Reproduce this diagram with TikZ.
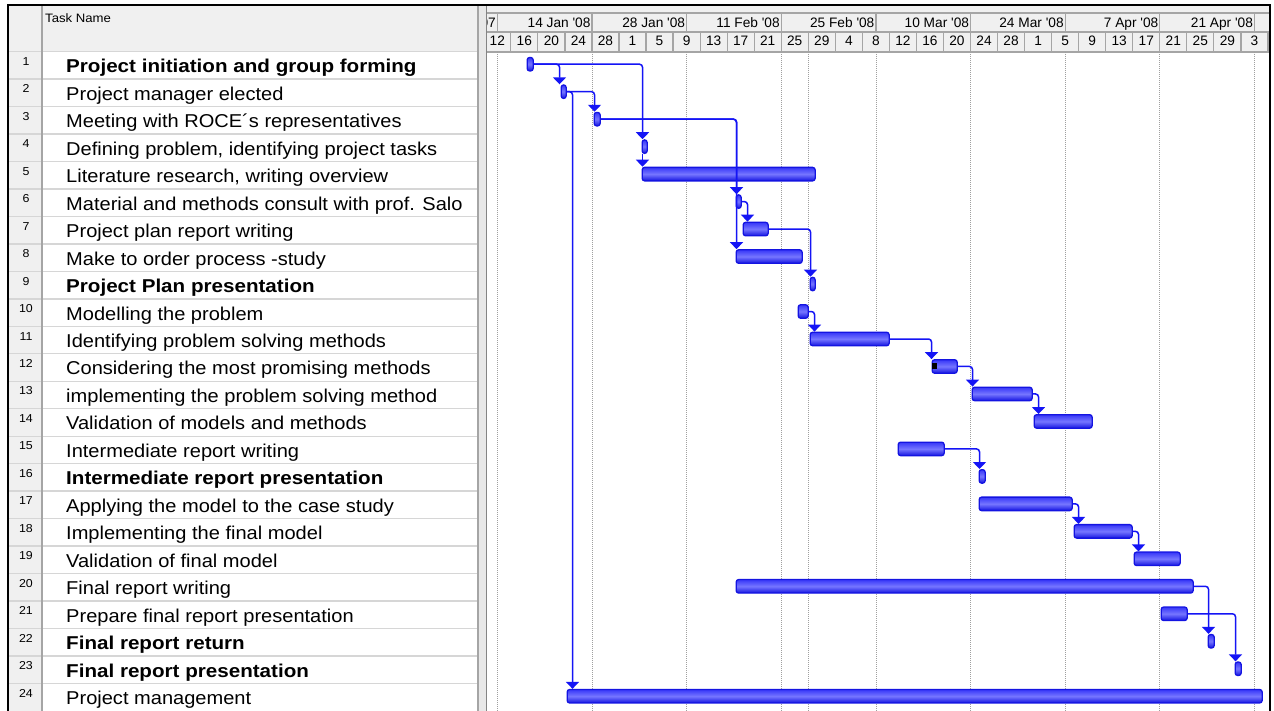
\documentclass[tikz,border=0pt]{standalone}
\usepackage{fontspec}
\setmainfont{Liberation Sans}[FakeStretch=1.078, BoldFeatures={FakeStretch=1.108}]
\newfontfamily\hdrfont{Liberation Sans}
\usetikzlibrary{arrows.meta}
\definecolor{barblue}{RGB}{20,20,225}
\definecolor{barmid}{RGB}{55,55,248}
\definecolor{barlight}{RGB}{118,118,255}
\definecolor{linkblue}{RGB}{20,20,245}
\definecolor{hdrgray}{RGB}{240,240,240}
\definecolor{linegray}{RGB}{165,165,165}
\definecolor{rowgray}{RGB}{214,214,214}
\definecolor{splitgray}{RGB}{232,232,232}

\tikzset{
 bar/.style={draw=barblue, line width=1.3pt, rounded corners=2.5pt, shading=axis,
   top color=barmid, bottom color=barblue, middle color=barlight,
   minimum height=13.5pt, inner sep=0pt, anchor=west},
 link/.style={linkblue, line width=1.5pt, rounded corners=3pt, -{Triangle[width=13pt,length=7pt]}},
 tasktxt/.style={anchor=base west, inner sep=0pt, font=\fontsize{18.6}{20}\selectfont},
 sumtxt/.style={tasktxt, font=\fontsize{18.6}{20}\selectfont\bfseries},
 idtxt/.style={anchor=base, inner sep=0pt, font=\fontsize{11.5}{12}\selectfont},
 hdrtxt/.style={inner sep=0pt, font=\hdrfont\fontsize{13.7}{15}\selectfont},
 gridline/.style={gray!75, line width=0.9pt, dash pattern=on 1pt off 1pt},
 rowline/.style={rowgray, line width=1.4pt}
}

\begin{document}
\begin{tikzpicture}[x=1pt,y=-1pt]
\useasboundingbox (0,0) rectangle (1274,711);
\fill[white] (0,0) rectangle (1274,711);
% header and id column
\fill[hdrgray] (8,5) rectangle (1270,52);
\fill[hdrgray] (8,52) rectangle (42,711);
\node[anchor=base west, inner sep=0pt, font=\fontsize{12.2}{13}\selectfont] (hdr) at (45,23) {Task Name};
% table rows
\foreach \i in {0,...,23}
 \draw[rowline] (8,{51.5+27.48*\i}) -- (478,{51.5+27.48*\i});
\draw[linegray, line width=1.2pt] (42,5) -- (42,711);
% splitter
\fill[splitgray] (478,5) rectangle (487,711);
\draw[linegray, line width=1.2pt] (478,5) -- (478,711);
\draw[linegray!80!black, line width=1.2pt] (486.5,5) -- (486.5,711);
% timescale
\draw[linegray, line width=1.2pt] (487,13) -- (1270,13) (487,32) -- (1270,32) (487,52) -- (1270,52);
\begin{scope}
\clip (487,5) rectangle (1270,52);
\foreach \lbl [count=\k from 0] in {31 Dec \textquotesingle 07, 14 Jan \textquotesingle 08, 28 Jan \textquotesingle 08,
  11 Feb \textquotesingle 08, 25 Feb \textquotesingle 08, 10 Mar \textquotesingle 08, 24 Mar \textquotesingle 08,
  7 Apr \textquotesingle 08, 21 Apr \textquotesingle 08} {
 \draw[linegray, line width=1.2pt] ({497.4+94.64*\k},13) -- ++(0,19);
 \node[hdrtxt, anchor=base east] (m\k) at ({496+94.64*\k},28) {\lbl};
}
\foreach \lbl [count=\k from 0] in {12,16,20,24,28,1,5,9,13,17,21,25,29,4,8,12,16,20,24,28,1,5,9,13,17,21,25,29,3} {
 \draw[linegray, line width=1.2pt] ({483.8+27.04*\k},32) -- ++(0,20);
 \node[hdrtxt, anchor=base] (d\k) at ({497.3+27.04*\k},46) {\lbl};
}
\draw[linegray, line width=1.2pt] (1268,32) -- ++(0,20);
\end{scope}
% gridlines
\foreach \k in {0,...,8}
 \draw[gridline] ({497.4+94.64*\k},52) -- ++(0,659);
\draw[gridline] (808.3,52) -- ++(0,659);
% task names
\foreach \i/\s/\txt in {1/sumtxt/Project initiation and group forming,
  2/tasktxt/Project manager elected,
  3/tasktxt/Meeting with ROCE´s representatives,
  4/tasktxt/{Defining problem, identifying project tasks},
  5/tasktxt/{Literature research, writing overview},
  6/tasktxt/Material and methods consult with prof. Salo,
  7/tasktxt/Project plan report writing,
  8/tasktxt/Make to order process -study,
  9/sumtxt/Project Plan presentation,
  10/tasktxt/Modelling the problem,
  11/tasktxt/Identifying problem solving methods,
  12/tasktxt/Considering the most promising methods,
  13/tasktxt/implementing the problem solving method,
  14/tasktxt/Validation of models and methods,
  15/tasktxt/Intermediate report writing,
  16/sumtxt/Intermediate report presentation,
  17/tasktxt/Applying the model to the case study,
  18/tasktxt/Implementing the final model,
  19/tasktxt/Validation of final model,
  20/tasktxt/Final report writing,
  21/tasktxt/Prepare final report presentation,
  22/sumtxt/Final report return,
  23/sumtxt/Final report presentation,
  24/tasktxt/Project management} {
 \node[idtxt] (n\i) at (26,{37.72+27.48*\i}) {\i};
 \node[\s] (t\i) at (66,{45.22+27.48*\i}) {\txt};
}
% bars
\foreach \i/\xa/\xb [evaluate=\xb as \w using \xb-\xa-1] in {1/526/533, 2/560/566, 3/593/600,
  4/641/647, 5/641/815, 6/735/741, 7/742/768, 8/735/802, 9/809/815, 10/797/808,
  11/809/889, 12/931/957, 13/971/1032, 14/1033/1092, 15/897/944, 16/978/985,
  17/978/1072, 18/1073/1132, 19/1133/1180, 20/735/1193, 21/1160/1187,
  22/1207/1214, 23/1234/1241, 24/566/1262}
 \node[bar, minimum width=\w pt] (b\i) at ({\xa+0.5},{36.72+27.48*\i}) {};
\fill[black] (931.5,363) rectangle (936.5,368.5);
% links
\foreach \p/\s/\dx in {1/2/-1, 1/4/1, 2/3/1, 2/24/6, 3/6/1, 3/8/1, 6/7/5, 7/9/1,
  10/11/5, 11/12/0, 12/13/1, 13/14/5, 15/16/1, 17/18/5, 18/19/5, 20/22/1, 21/23/1}
 \draw[link] (b\p.east) -| ([xshift=\dx pt]b\s.north west);
\draw[link] ([xshift=1pt]b4.south west) -- ([xshift=1pt]b5.north west);
% frame
\draw[line width=2.5pt] (8,711) -- (8,5) -- (1270,5) -- (1270,711);
\end{tikzpicture}
\end{document}
